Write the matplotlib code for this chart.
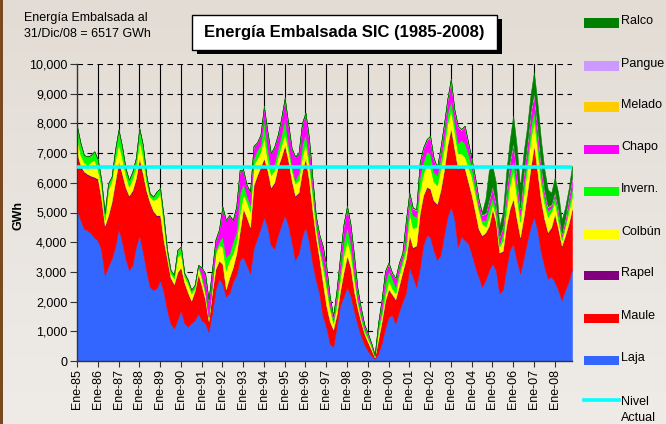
import numpy as np
import matplotlib
matplotlib.use("Agg")
import matplotlib.pyplot as plt
from matplotlib.patches import Rectangle
from matplotlib.lines import Line2D
from matplotlib.colors import LinearSegmentedColormap

# bimonthly readings (Ene, Mar, May, Jul, Sep, Nov), GWh, 1985 -> 2008
laja = [
    5080, 4750, 4450, 4400, 4300, 4150,
    4070, 3740, 2900, 3180, 3450, 3850,
    4470, 4020, 3450, 3060, 3230, 3850,
    4240, 3680, 3060, 2500, 2390, 2450,
    2730, 2330, 1720, 1270, 1100, 1380,
    1720, 1270, 1160, 1270, 1380, 1600,
    1380, 1270, 990, 1600, 2390, 2780,
    2610, 2170, 2280, 2670, 2890, 3400,
    3510, 3230, 2950, 3790, 4130, 4470,
    4860, 4520, 3900, 3790, 4240, 4580,
    4920, 4580, 4020, 3400, 3620, 4190,
    4520, 4020, 3290, 2730, 2280, 1500,
    1160, 590, 480, 1160, 1880, 2170,
    2500, 2200, 1700, 1250, 850, 550,
    350, 180, 70, 250, 600, 1100,
    1490, 1550, 1270, 1660, 2000, 2300,
    3180, 2840, 2500, 3120, 3900, 4240,
    4190, 3740, 3400, 3570, 4240, 4860,
    5190, 4800, 3850, 4190, 4070, 3960,
    3620, 3180, 2840, 2500, 2730, 3060,
    3290, 3060, 2280, 2390, 3120, 3740,
    3960, 3400, 2950, 3460, 4020, 4520,
    4860, 4410, 3680, 3180, 2780, 2840,
    2670, 2390, 2050, 2390, 2670, 3100,
]
maule = [
    1850, 1790, 1890, 1860, 1900, 2000,
    2020, 1680, 1620, 1680, 1860, 2130,
    2180, 2240, 2360, 2470, 2470, 2240,
    2530, 2580, 2640, 2810, 2630, 2410,
    2130, 1690, 1680, 1510, 1460, 1570,
    1400, 1340, 1120, 730, 950, 1290,
    1120, 780, 330, 680, 670, 560,
    620, 220, 500, 450, 680, 900,
    1570, 1570, 1520, 2080, 2070, 2020,
    1910, 1850, 1910, 2190, 2250, 2240,
    2290, 2130, 2020, 2130, 2020, 2130,
    2250, 2020, 1740, 1400, 1120, 1100,
    670, 730, 560, 390, 450, 780,
    1010, 920, 630, 520, 450, 350,
    270, 180, 40, 450, 700, 900,
    900, 670, 780, 840, 950, 1100,
    1010, 950, 1350, 1790, 1630, 1570,
    1570, 1620, 1850, 2130, 2130, 2350,
    2590, 2300, 2580, 2350, 2360, 2020,
    1910, 1790, 1570, 1690, 1570, 1460,
    1790, 1570, 1340, 1290, 1400, 1340,
    1460, 1340, 1180, 1340, 1570, 1910,
    2350, 1910, 1680, 1560, 1520, 1630,
    2240, 2020, 1800, 1800, 1910, 1980,
]
rapel = [
    60, 50, 40, 40, 40, 50,
    50, 40, 40, 40, 50, 60,
    60, 50, 40, 40, 50, 60,
    60, 50, 40, 40, 40, 50,
    50, 40, 40, 30, 30, 40,
    40, 30, 30, 30, 30, 40,
    30, 30, 20, 30, 40, 40,
    40, 30, 30, 30, 40, 50,
    50, 40, 40, 50, 50, 50,
    60, 50, 40, 40, 50, 50,
    60, 50, 40, 40, 40, 50,
    60, 50, 40, 40, 40, 30,
    30, 20, 20, 20, 30, 40,
    40, 40, 30, 20, 20, 20,
    20, 20, 10, 20, 30, 30,
    30, 30, 30, 30, 40, 40,
    50, 40, 40, 50, 50, 50,
    50, 50, 40, 50, 50, 60,
    60, 50, 50, 50, 50, 50,
    50, 50, 40, 40, 30, 40,
    40, 40, 30, 30, 40, 50,
    50, 50, 40, 50, 50, 60,
    60, 50, 50, 40, 40, 40,
    40, 40, 30, 30, 40, 40,
]
colbun = [
    510, 340, 300, 300, 470, 570,
    290, 410, 190, 860, 730, 730,
    620, 510, 410, 300, 400, 390,
    610, 570, 300, 180, 360, 570,
    730, 570, 180, 140, 190, 520,
    460, 200, 300, 250, 80, 250,
    250, 200, 100, 190, 520, 520,
    580, 640, 590, 470, 410, 620,
    510, 520, 520, 680, 570, 510,
    720, 350, 410, 410, 340, 400,
    390, 340, 350, 410, 410, 510,
    500, 510, 520, 300, 300, 520,
    640, 430, 210, 310, 420, 580,
    520, 460, 420, 200, 120, 70,
    120, 100, 30, 270, 220, 190,
    310, 190, 200, 360, 300, 310,
    730, 640, 630, 790, 740, 740,
    730, 630, 630, 740, 740, 730,
    610, 570, 510, 400, 400, 510,
    620, 620, 630, 400, 190, 300,
    190, 190, 200, 360, 520, 790,
    960, 740, 520, 740, 850, 950,
    840, 730, 570, 530, 520, 520,
    410, 290, 190, 300, 410, 410,
]
invern = [
    390, 400, 250, 280, 220, 280,
    340, 220, 220, 220, 110, 330,
    450, 400, 230, 220, 220, 280,
    390, 390, 220, 110, 110, 220,
    170, 230, 120, 110, 110, 230,
    230, 110, 120, 110, 120, 50,
    110, 110, 50, 110, 120, 120,
    340, 450, 220, 400, 330, 670,
    340, 230, 220, 220, 280, 220,
    560, 390, 230, 230, 280, 340,
    510, 230, 170, 110, 230, 390,
    330, 220, 220, 220, 110, 200,
    230, 110, 110, 230, 280, 450,
    450, 340, 230, 120, 110, 110,
    80, 60, 20, 170, 170, 390,
    330, 340, 220, 170, 170, 300,
    450, 440, 340, 450, 390, 450,
    450, 330, 340, 330, 340, 340,
    340, 340, 340, 450, 450, 450,
    340, 230, 110, 110, 220, 330,
    220, 220, 110, 220, 340, 340,
    340, 340, 220, 330, 330, 450,
    340, 340, 340, 220, 220, 110,
    230, 230, 110, 110, 220, 280,
]
chapo = [0] * 36 + [
    250, 560, 560, 450, 340, 390,
    1000, 1230, 1290, 720, 840, 790,
    450, 330, 450, 420, 250, 340,
    450, 560, 500, 560, 450, 560,
    670, 670, 560, 790, 670, 730,
    680, 680, 340, 170, 390, 500,
    450, 290, 110, 280, 450, 560,
    670, 620, 560, 330, 220, 110,
    90, 50, 30, 110, 330, 400,
    230, 170, 280, 230, 160, 650,
    220, 220, 220, 450, 450, 390,
    560, 450, 230, 340, 440, 450,
    670, 390, 560, 340, 560, 340,
    230, 280, 230, 170, 230, 230,
    340, 230, 220, 230, 330, 450,
    560, 450, 230, 400, 450, 450,
    560, 450, 330, 220, 110, 110,
    110, 170, 110, 170, 280, 340,
]
melado = [
    10, 10, 5, 5, 5, 10,
    10, 5, 5, 5, 5, 10,
    10, 10, 5, 5, 5, 10,
    10, 10, 5, 5, 5, 5,
    10, 5, 5, 5, 5, 5,
    5, 5, 5, 5, 5, 5,
    5, 5, 5, 5, 5, 10,
    10, 10, 5, 5, 5, 10,
    10, 10, 5, 5, 10, 10,
    15, 10, 5, 5, 10, 10,
    15, 10, 5, 5, 10, 10,
    15, 10, 5, 5, 5, 5,
    5, 5, 5, 5, 5, 10,
    10, 10, 5, 5, 5, 5,
    5, 5, 0, 5, 5, 5,
    5, 5, 5, 5, 5, 10,
    10, 10, 5, 10, 10, 10,
    15, 10, 5, 10, 10, 15,
    15, 10, 10, 10, 10, 10,
    10, 10, 5, 5, 5, 10,
    10, 10, 5, 5, 10, 15,
    15, 10, 5, 10, 10, 15,
    15, 10, 10, 5, 5, 5,
    5, 5, 5, 5, 10, 10,
]
pangue = [0] * 66 + [
    10, 10, 10, 10, 10, 10,
    10, 10, 10, 10, 20, 20,
    20, 20, 10, 10, 10, 10,
    10, 10, 0, 10, 10, 20,
    20, 20, 10, 10, 20, 20,
    20, 20, 20, 20, 20, 20,
    20, 20, 20, 20, 20, 30,
    30, 20, 20, 20, 20, 20,
    20, 20, 20, 20, 10, 20,
    20, 20, 10, 20, 20, 20,
    30, 20, 20, 20, 20, 30,
    30, 20, 20, 20, 20, 20,
    20, 20, 10, 20, 20, 20,
]
ralco = [0] * 117 + [
    80, 480, 980,
    670, 670, 340, 450, 570, 670,
    890, 900, 670, 670, 560, 560,
    670, 780, 790, 680, 560, 390,
    450, 500, 450, 340, 220, 390,
]
nivel_actual = 6517

series_names = ["Laja", "Maule", "Rapel", "Colbún", "Invern.", "Chapo",
                "Melado", "Pangue", "Ralco"]
series_colors = ["#3366FF", "#FF0000", "#800080", "#FFFF00", "#00FF00",
                 "#FF00FF", "#FFCC00", "#CC99FF", "#008000"]
years = ["Ene-%02d" % (y % 100) for y in range(1985, 2009)]

plt.rcParams['font.family'] = ['Liberation Sans', 'DejaVu Sans']

W, H = 666, 424
fig = plt.figure(figsize=(W / 100, H / 100), dpi=100)

# background
bg = fig.add_axes([0, 0, 1, 1], zorder=-10)
cmap = LinearSegmentedColormap.from_list("bg", ["#E2DCD4", "#EFECE8"])
bg.imshow(np.linspace(0, 1, 256).reshape(-1, 1), cmap=cmap, aspect="auto",
          extent=[0, 1, 0, 1])
bg.axis("off")
fig.add_artist(Rectangle((0, 0), 3 / W, 1, transform=fig.transFigure,
                         color="#7A4A1E", lw=0))


def fx(px):
    return px / W


def fy(py):
    return 1 - py / H


ax = fig.add_axes([fx(77), fy(361), (572 - 77) / W, (361 - 64) / H])
ax.patch.set_alpha(0)

x = np.arange(len(laja)) * 2
layers = [laja, maule, rapel, colbun, invern, chapo, melado, pangue, ralco]
polys = ax.stackplot(x, *layers, colors=series_colors, zorder=2)
for p, c in zip(polys, series_colors):
    p.set_edgecolor(c)
    p.set_linewidth(0.4)

ax.axhline(nivel_actual, color="#00FFFF", lw=2.6, zorder=4)

for v in range(1000, 10001, 1000):
    ax.axhline(v, color="black", lw=0.8, ls=(0, (5, 4)), zorder=1)
for m in range(12, 277, 12):
    ax.axvline(m, color="black", lw=0.8, zorder=1)

ax.set_xlim(0, x[-1])
ax.set_ylim(0, 10000)
ax.set_yticks(range(0, 10001, 1000))
ax.set_yticklabels(["{:,}".format(v) for v in range(0, 10001, 1000)])
ax.set_xticks(range(0, 277, 12))
ax.set_xticklabels(years, rotation=90)
ax.tick_params(axis="x", length=4, pad=2, labelsize=9, color="#333333")
ax.tick_params(axis="y", length=5, pad=2, labelsize=9, color="#333333")
for s in ["top", "right"]:
    ax.spines[s].set_visible(False)
for s in ["left", "bottom"]:
    ax.spines[s].set_color("#333333")
    ax.spines[s].set_linewidth(1)

fig.text(fx(18), fy(215), "GWh", rotation=90, fontweight="bold", fontsize=9,
         ha="center", va="center")

# top-left note
fig.text(fx(24), fy(17.5), "Energía Embalsada al", fontsize=9, va="center")
fig.text(fx(24), fy(34), "31/Dic/08 = %d GWh" % nivel_actual, fontsize=9,
         va="center")

# title box with shadow
fig.add_artist(Rectangle((fx(197), fy(53.5)), 305 / W, 34 / H,
                         transform=fig.transFigure, color="black", lw=0))
fig.add_artist(Rectangle((fx(192), fy(49.5)), 305 / W, 34 / H,
                         transform=fig.transFigure, facecolor="white",
                         edgecolor="black", lw=1))
fig.text(fx(344.5), fy(33), "Energía Embalsada SIC (1985-2008)",
         fontsize=12, fontweight="bold", ha="center", va="center")

# legend
leg_y = [23, 66, 107, 149, 191, 234, 275, 318, 360]
for name, col, yc in zip(series_names[::-1], series_colors[::-1], leg_y):
    fig.add_artist(Rectangle((fx(584), fy(yc + 4.5)), 35 / W, 9 / H,
                             transform=fig.transFigure, color=col, lw=0))
    fig.text(fx(621), fy(yc - 2), name, fontsize=9, va="center")
fig.add_artist(Line2D([fx(584), fx(619)], [fy(400), fy(400)],
                      transform=fig.transFigure, color="#00FFFF", lw=2.6))
fig.text(fx(621), fy(402), "Nivel", fontsize=9, va="center")
fig.text(fx(621), fy(418), "Actual", fontsize=9, va="center")

fig.savefig("out.png", dpi=100)
